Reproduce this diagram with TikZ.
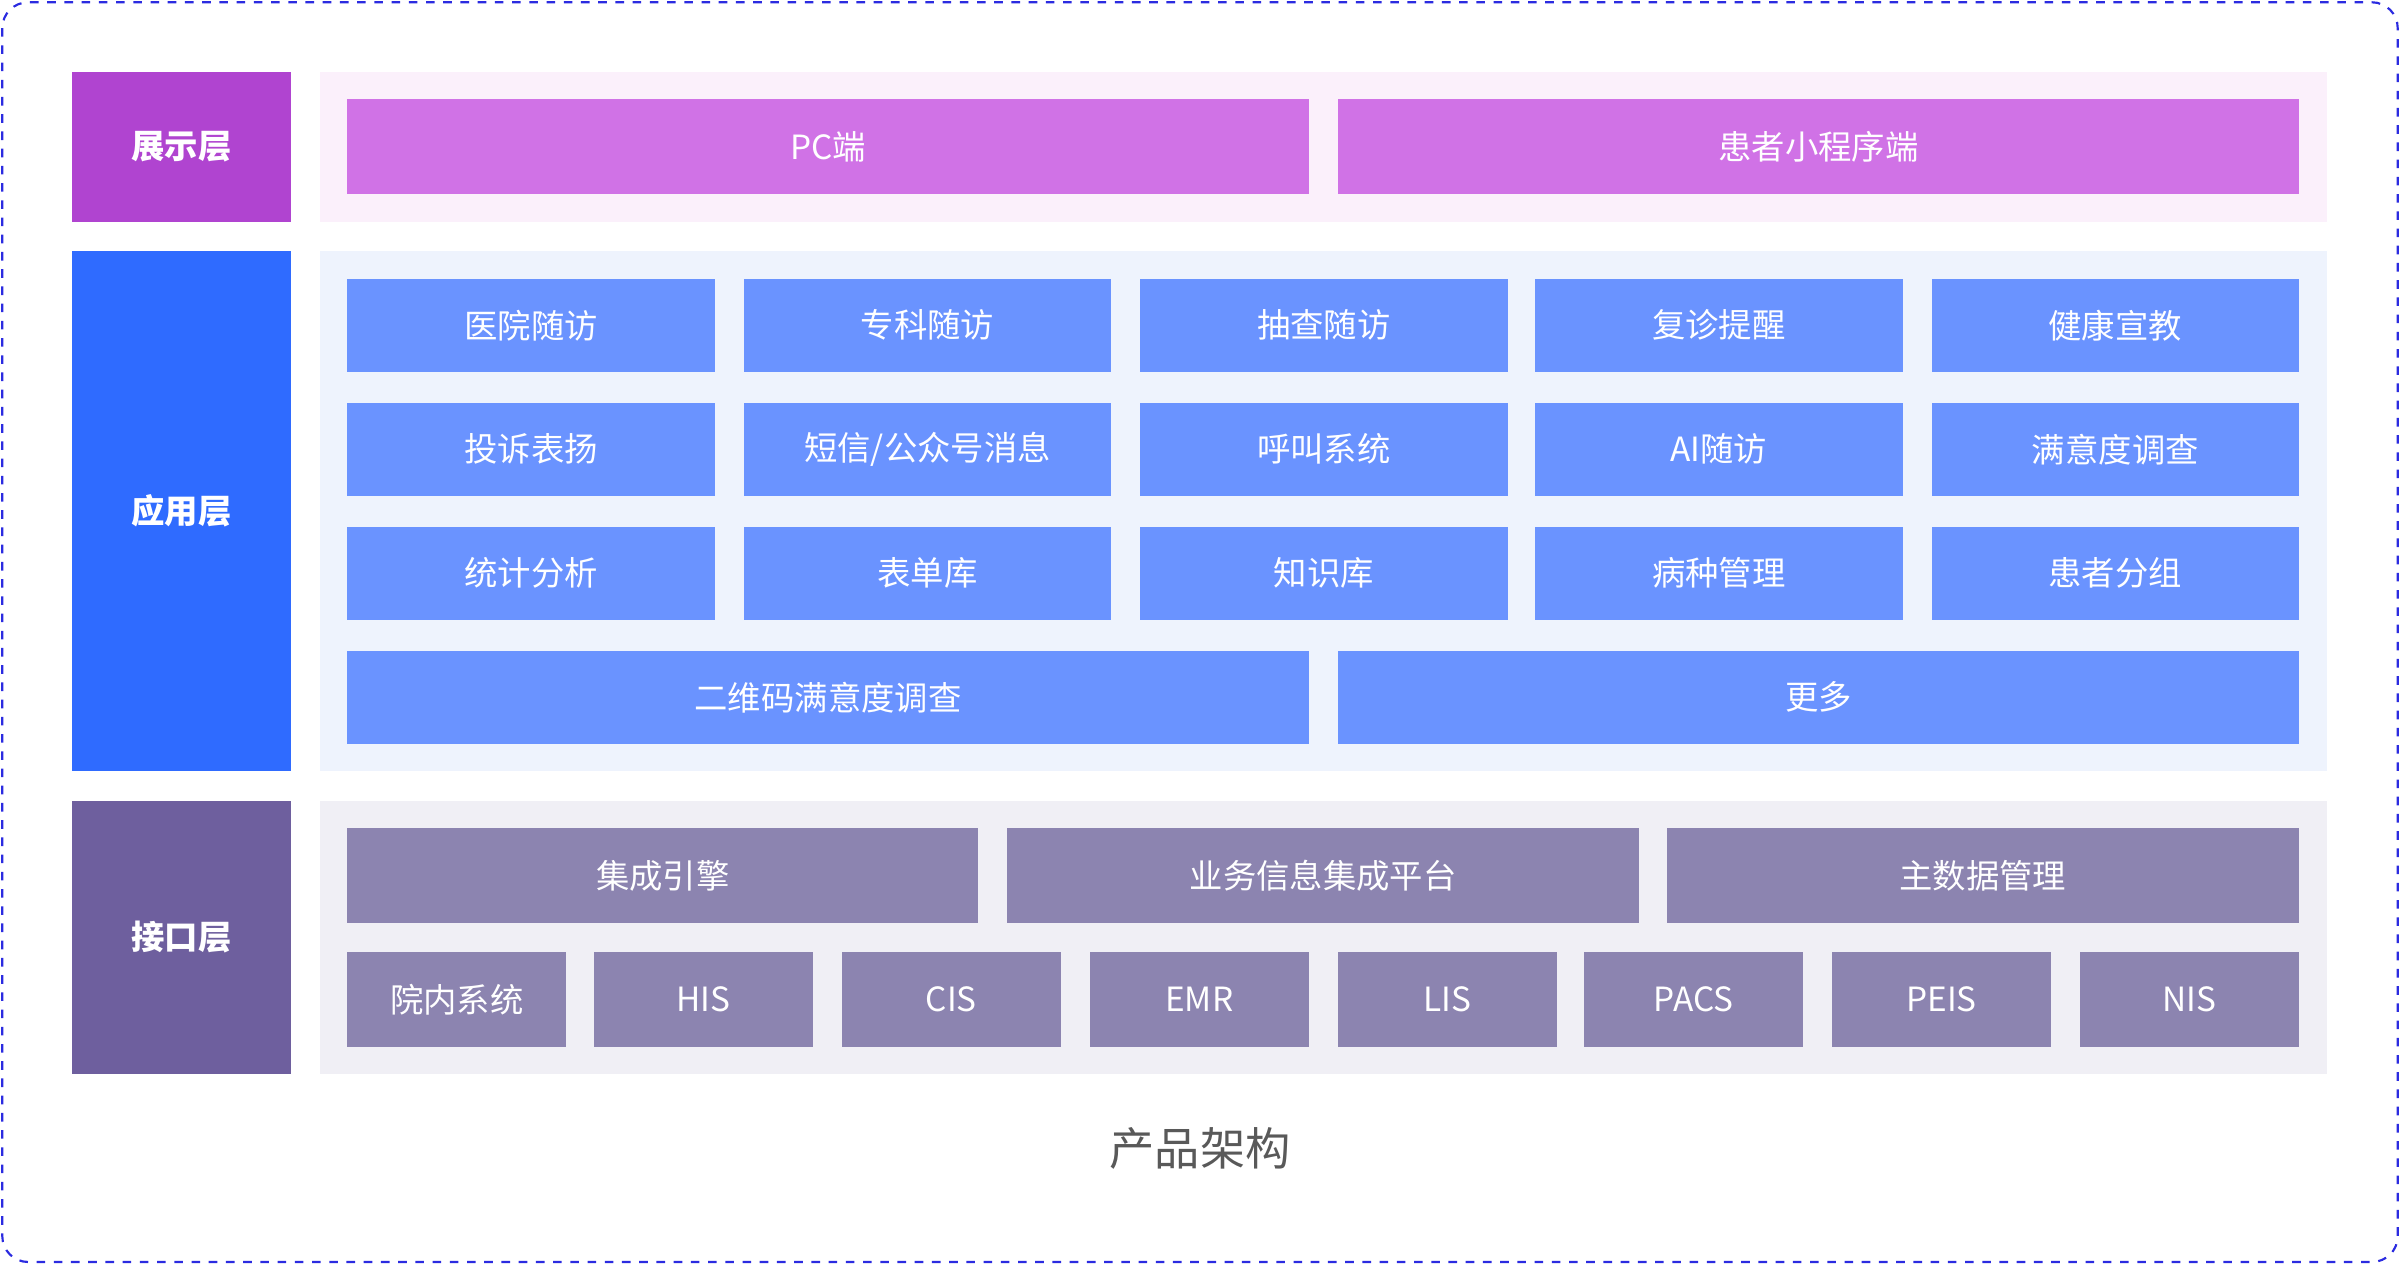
\documentclass[tikz,border=0pt]{standalone}
\usepackage{fontspec}
\setmainfont{Noto Sans CJK SC}
\definecolor{showc}{HTML}{B044D0}
\definecolor{showbg}{HTML}{FBF0FB}
\definecolor{showbox}{HTML}{D072E6}
\definecolor{appc}{HTML}{2F6BFF}
\definecolor{appbg}{HTML}{EEF3FD}
\definecolor{appbox}{HTML}{6A93FF}
\definecolor{ifc}{HTML}{6E5F9E}
\definecolor{ifbg}{HTML}{F0EFF5}
\definecolor{ifbox}{HTML}{8C84B0}
\definecolor{frame}{HTML}{2B2BE0}
\tikzset{
  blk/.style={inner sep=0pt, text=white, font=\fontsize{15.5}{18}\selectfont},
  layer/.style={blk, font=\fontsize{15.5}{18}\selectfont\bfseries}
}
% block from (x1,y1) to (x2,y2), in pixels of the reference
\newcommand\blk[7]{\node[#6, fill=#7, minimum width={(#3-#1)*0.025cm}, minimum height={(#4-#2)*0.025cm}] (#5) at ({(#1+#3)/2},{(#2+#4)/2})}
\begin{document}
\begin{tikzpicture}[x=0.025cm, y=-0.025cm]
  \useasboundingbox (0,0) rectangle (1568,826);
  \draw[frame, dashed, line width=1pt, dash pattern=on 4pt off 4pt, rounded corners=12] (1.5,1.5) rectangle (1566.5,824.5);

  % layers
  \blk{47}{47}{190}{145}{ShowLayer}{layer}{showc} {展示层};
  \blk{47}{164}{190}{504}{AppLayer}{layer}{appc} {应用层};
  \blk{47}{523}{190}{702}{IfLayer}{layer}{ifc} {接口层};

  \blk{209}{47}{1520}{145}{ShowPanel}{blk}{showbg} {};
  \blk{209}{164}{1520}{504}{AppPanel}{blk}{appbg} {};
  \blk{209}{523}{1520}{702}{IfPanel}{blk}{ifbg} {};

  % presentation
  \blk{227}{65}{855}{127}{PC}{blk}{showbox} {PC端};
  \blk{874}{65}{1502}{127}{MiniApp}{blk}{showbox} {患者小程序端};

  % application
  \blk{227}{182}{467}{243}{A1}{blk}{appbox} {医院随访};
  \blk{486}{182}{726}{243}{A2}{blk}{appbox} {专科随访};
  \blk{745}{182}{985}{243}{A3}{blk}{appbox} {抽查随访};
  \blk{1003}{182}{1243}{243}{A4}{blk}{appbox} {复诊提醒};
  \blk{1262}{182}{1502}{243}{A5}{blk}{appbox} {健康宣教};
  \blk{227}{263}{467}{324}{B1}{blk}{appbox} {投诉表扬};
  \blk{486}{263}{726}{324}{B2}{blk}{appbox} {短信/公众号消息};
  \blk{745}{263}{985}{324}{B3}{blk}{appbox} {呼叫系统};
  \blk{1003}{263}{1243}{324}{B4}{blk}{appbox} {AI随访};
  \blk{1262}{263}{1502}{324}{B5}{blk}{appbox} {满意度调查};
  \blk{227}{344}{467}{405}{C1}{blk}{appbox} {统计分析};
  \blk{486}{344}{726}{405}{C2}{blk}{appbox} {表单库};
  \blk{745}{344}{985}{405}{C3}{blk}{appbox} {知识库};
  \blk{1003}{344}{1243}{405}{C4}{blk}{appbox} {病种管理};
  \blk{1262}{344}{1502}{405}{C5}{blk}{appbox} {患者分组};
  \blk{227}{425}{855}{486}{D1}{blk}{appbox} {二维码满意度调查};
  \blk{874}{425}{1502}{486}{D2}{blk}{appbox} {更多};

  % interface
  \blk{227}{541}{639}{603}{Engine}{blk}{ifbox} {集成引擎};
  \blk{658}{541}{1071}{603}{Platform}{blk}{ifbox} {业务信息集成平台};
  \blk{1089}{541}{1502}{603}{MasterData}{blk}{ifbox} {主数据管理};
  \blk{227}{622}{370}{684}{Sys}{blk}{ifbox} {院内系统};
  \blk{388}{622}{531}{684}{HIS}{blk}{ifbox} {HIS};
  \blk{550}{622}{693}{684}{CIS}{blk}{ifbox} {CIS};
  \blk{712}{622}{855}{684}{EMR}{blk}{ifbox} {EMR};
  \blk{874}{622}{1017}{684}{LIS}{blk}{ifbox} {LIS};
  \blk{1035}{622}{1178}{684}{PACS}{blk}{ifbox} {PACS};
  \blk{1197}{622}{1340}{684}{PEIS}{blk}{ifbox} {PEIS};
  \blk{1359}{622}{1502}{684}{NIS}{blk}{ifbox} {NIS};

  \node[text=black!65, font=\fontsize{21}{25}\selectfont] (Caption) at (784,750) {产品架构};
\end{tikzpicture}
\end{document}
